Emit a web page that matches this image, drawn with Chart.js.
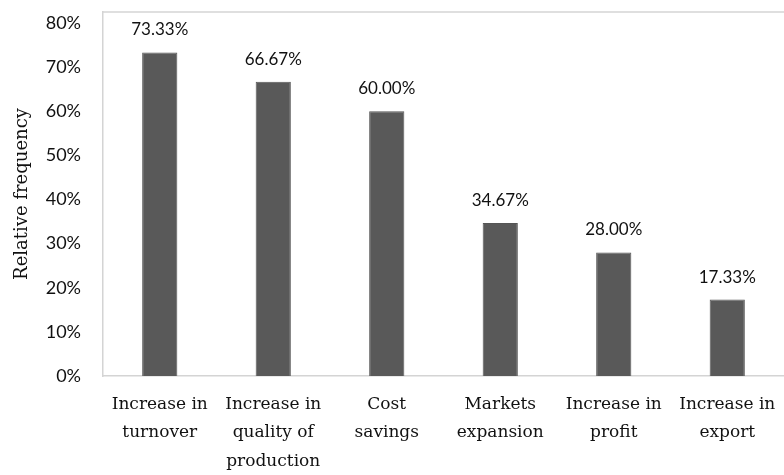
<!DOCTYPE html>
<html>
<head>
<meta charset="utf-8">
<script src="https://cdn.jsdelivr.net/npm/chart.js@4.4.1/dist/chart.umd.min.js"></script>
<style>
  html, body { margin: 0; padding: 0; background: #fff; }
  #wrap { width: 784px; height: 475px; }
</style>
</head>
<body>
<div id="wrap"><canvas id="freq-chart"></canvas></div>
<script>
const categories = [
  ['Increase in', 'turnover'],
  ['Increase in', 'quality of', 'production'],
  ['Cost', 'savings'],
  ['Markets', 'expansion'],
  ['Increase in', 'profit'],
  ['Increase in', 'export']
];
const frequencies = [73.33, 66.67, 60.00, 34.67, 28.00, 17.33];
const yTicks = [0, 10, 20, 30, 40, 50, 60, 70, 80];

// value labels above bars + top edge of the plot frame
const barLabels = {
  id: 'barLabels',
  afterDatasetsDraw(chart) {
    const ctx = chart.ctx;
    const area = chart.chartArea;
    ctx.save();
    ctx.strokeStyle = '#d4d4d4';
    ctx.lineWidth = 1.5;
    ctx.beginPath();
    ctx.moveTo(area.left, area.top);
    ctx.lineTo(area.right, area.top);
    ctx.stroke();

    ctx.fillStyle = '#111';
    ctx.font = '17px Lato';
    ctx.textAlign = 'center';
    ctx.textBaseline = 'alphabetic';
    chart.getDatasetMeta(0).data.forEach((bar, i) => {
      ctx.fillText(frequencies[i].toFixed(2) + '%', bar.x, bar.y - 17);
    });
    ctx.restore();
  }
};

const ctx = document.getElementById('freq-chart').getContext('2d');
new Chart(ctx, {
  type: 'bar',
  data: {
    labels: categories,
    datasets: [{
      data: frequencies,
      backgroundColor: '#595959',
      borderColor: '#555555',
      borderWidth: 1,
      barPercentage: 0.31,
      categoryPercentage: 1
    }]
  },
  options: {
    responsive: true,
    maintainAspectRatio: false,
    animation: false,
    layout: { padding: { top: 12, right: 0, left: 0, bottom: 0 } },
    plugins: {
      legend: { display: false },
      tooltip: { enabled: false }
    },
    scales: {
      x: {
        grid: { display: false, drawTicks: false },
        border: { color: '#d4d4d4', width: 1.5 },
        ticks: {
          color: '#111',
          font: { family: 'DejaVu Serif', size: 17, lineHeight: 1.68 },
          padding: 14,
          maxRotation: 0,
          autoSkip: false
        },
        afterFit(scale) {
          scale.height = 99;
          scale.paddingLeft = 0;
          scale.paddingRight = 0;
        }
      },
      y: {
        min: 0,
        max: 82.5,
        grid: { display: false, drawTicks: false },
        border: { color: '#d4d4d4', width: 1.5 },
        afterBuildTicks(axis) { axis.ticks = yTicks.map(v => ({ value: v })); },
        ticks: {
          color: '#111',
          font: { family: 'Lato', size: 18 },
          padding: 22,
          callback: v => v + '%'
        },
        title: {
          display: true,
          text: 'Relative frequency',
          color: '#111',
          font: { family: 'DejaVu Serif', size: 18 },
          padding: { top: 12, bottom: 4 }
        },
        afterFit(scale) {
          scale.width = 103;
          scale.paddingTop = 0;
          scale.paddingBottom = 0;
        }
      }
    }
  },
  plugins: [barLabels]
});
</script>
</body>
</html>
